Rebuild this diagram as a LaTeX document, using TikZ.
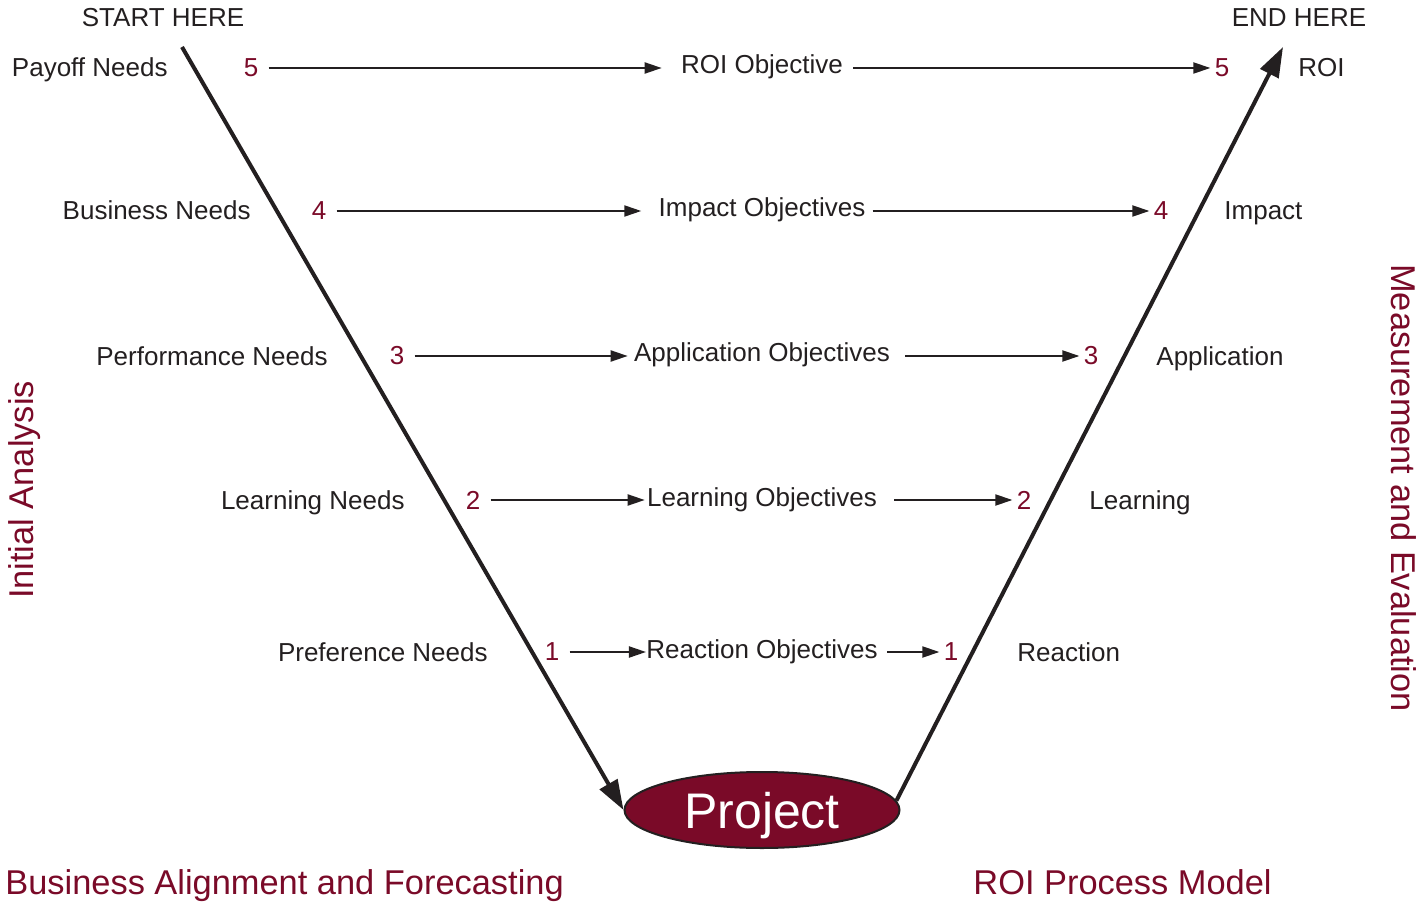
\documentclass[tikz,border=0pt]{standalone}
\usepackage{fontspec}
\setmainfont{Liberation Sans}
\usetikzlibrary{arrows.meta,shapes.geometric}
\definecolor{roired}{HTML}{7A0A28}
\definecolor{ink}{HTML}{231F20}

\begin{document}
\begin{tikzpicture}[x=0.5pt,y=-0.5pt,
    lbl/.style={inner sep=0pt,text=ink,font=\fontsize{13}{15}\selectfont},
    num/.style={inner sep=0pt,text=roired,font=\fontsize{13}{15}\selectfont},
    side/.style={inner sep=0pt,text=roired,font=\fontsize{17.2}{20}\selectfont},
    arr/.style={-{Triangle[length=8.5pt,width=5.5pt]},line width=1pt,draw=ink},
    vline/.style={-{Triangle[length=15pt,width=10pt]},line width=2pt,draw=ink}]
  \useasboundingbox (0,0) rectangle (1423,903);

  % start / end
  \node[lbl,anchor=base] (starthere) at (163,27) {START HERE};
  \node[lbl,anchor=base] (endhere) at (1299,27) {END HERE};

  % level 5
  \node[lbl,anchor=base east] (need5) at (168,77) {Payoff Needs};
  \node[num] (l5) at (251,68) {5};
  \node[lbl,anchor=base] (obj5) at (762,74) {ROI Objective};
  \node[num] (r5) at (1222,68) {5};
  \node[lbl,anchor=base west] (res5) at (1298,77) {ROI};
  \draw[arr,shorten <=5pt,shorten >=9.5pt] (l5.east) -- (l5.east -| obj5.west);
  \draw[arr,shorten <=5pt,shorten >=2pt] (r5.west -| obj5.east) -- (r5.west);

  % level 4
  \node[lbl,anchor=base east] (need4) at (251,220) {Business Needs};
  \node[num] (l4) at (319,211) {4};
  \node[lbl,anchor=base] (obj4) at (762,217) {Impact Objectives};
  \node[num] (r4) at (1161,211) {4};
  \node[lbl,anchor=base west] (res4) at (1224,220) {Impact};
  \draw[arr,shorten <=5pt,shorten >=8.5pt] (l4.east) -- (l4.east -| obj4.west);
  \draw[arr,shorten <=3.5pt,shorten >=2pt] (r4.west -| obj4.east) -- (r4.west);

  % level 3
  \node[lbl,anchor=base east] (need3) at (328,365) {Performance Needs};
  \node[num] (l3) at (397,356) {3};
  \node[lbl,anchor=base] (obj3) at (762,362) {Application Objectives};
  \node[num] (r3) at (1091,356) {3};
  \node[lbl,anchor=base west] (res3) at (1156,365) {Application};
  \draw[arr,shorten <=5pt,shorten >=3pt] (l3.east) -- (l3.east -| obj3.west);
  \draw[arr,shorten <=7.5pt,shorten >=2pt] (r3.west -| obj3.east) -- (r3.west);

  % level 2
  \node[lbl,anchor=base east] (need2) at (405,509) {Learning Needs};
  \node[num] (l2) at (473,500) {2};
  \node[lbl,anchor=base] (obj2) at (762,506) {Learning Objectives};
  \node[num] (r2) at (1024,500) {2};
  \node[lbl,anchor=base west] (res2) at (1089,509) {Learning};
  \draw[arr,shorten <=5pt,shorten >=1pt] (l2.east) -- (l2.east -| obj2.west);
  \draw[arr,shorten <=8.5pt,shorten >=2pt] (r2.west -| obj2.east) -- (r2.west);

  % level 1
  \node[lbl,anchor=base east] (need1) at (488,661) {Preference Needs};
  \node[num] (l1) at (552,652) {1};
  \node[lbl,anchor=base] (obj1) at (762,658) {Reaction Objectives};
  \node[num] (r1) at (951,652) {1};
  \node[lbl,anchor=base west] (res1) at (1017,661) {Reaction};
  \draw[arr,shorten <=5pt,shorten >=0pt] (l1.east) -- (l1.east -| obj1.west);
  \draw[arr,shorten <=4.5pt,shorten >=2pt] (r1.west -| obj1.east) -- (r1.west);

  % the V
  \node[ellipse,draw=ink,line width=1pt,fill=roired,minimum width=137.5pt,minimum height=38pt,
        inner sep=0pt,text depth=0pt,text=white,font=\fontsize{25}{28}\selectfont] (proj) at (762,810) {Project};
  \coordinate (vtop) at (182,47);
  \coordinate (vend) at (1283,47);
  \draw[vline] (vtop) -- (proj.west);
  \draw[vline] (proj.4) -- (vend);

  % side titles
  \node[side,anchor=base west] (align) at (5,894) {Business Alignment and Forecasting};
  \node[side,anchor=base west] (model) at (973,894) {ROI Process Model};
  \node[side,anchor=base,rotate=90] (analysis) at (33,490) {Initial Analysis};
  \node[side,anchor=base,rotate=-90] (evaluation) at (1391,488) {Measurement and Evaluation};
\end{tikzpicture}
\end{document}
